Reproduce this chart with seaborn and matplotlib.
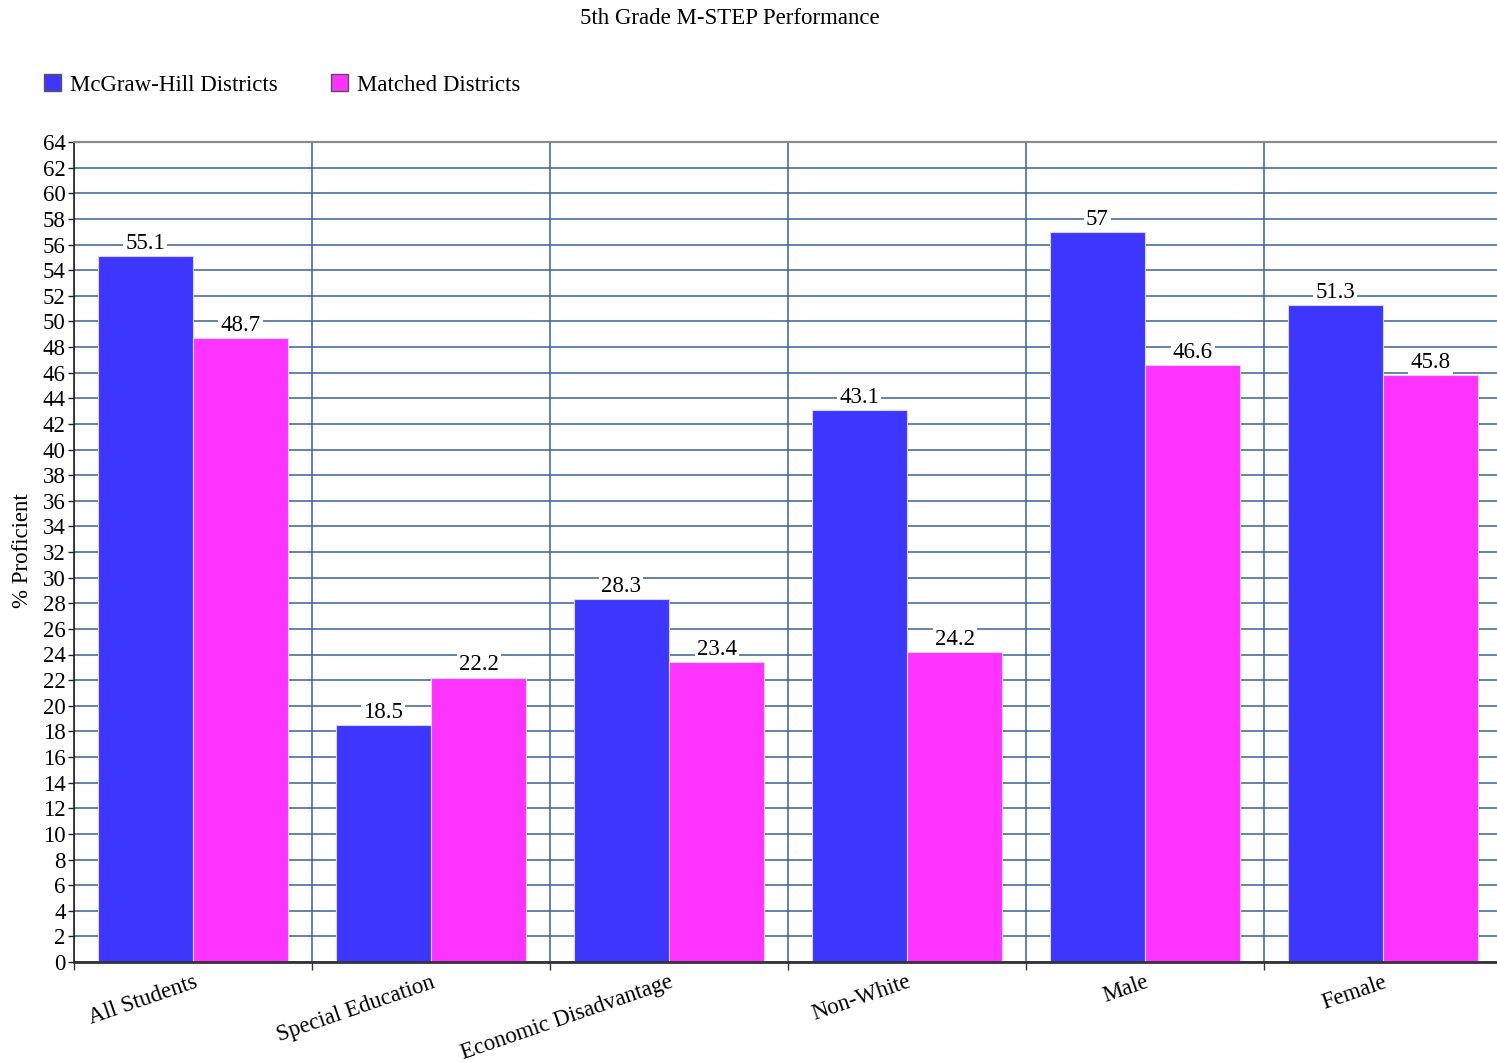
import matplotlib
matplotlib.use('Agg')
import matplotlib.pyplot as plt
import seaborn as sns
import pandas as pd
import numpy as np

# ---- data ----
categories = ["All Students", "Special Education", "Economic Disadvantage",
              "Non-White", "Male", "Female"]
series_names = ["McGraw-Hill Districts", "Matched Districts"]
mcgraw_hill = [55.1, 18.5, 28.3, 43.1, 57.0, 51.3]
matched = [48.7, 22.2, 23.4, 24.2, 46.6, 45.8]
y_ticks = list(range(0, 65, 2))
title = "5th Grade M-STEP Performance"
y_label = "% Proficient"

# ---- style ----
sns.set_style("white")
plt.rcParams['font.family'] = ['Liberation Serif', 'DejaVu Serif']
plt.rcParams['text.color'] = 'black'
plt.rcParams['xtick.color'] = 'black'
plt.rcParams['ytick.color'] = 'black'
plt.rcParams['xtick.labelcolor'] = 'black'
plt.rcParams['ytick.labelcolor'] = 'black'
FS = 16.5
BLUE = "#3c36ff"
PINK = "#ff33ff"
GRID = "#3a6290"

df = pd.DataFrame({
    "Group": categories * 2,
    "Series": [series_names[0]] * len(categories) + [series_names[1]] * len(categories),
    "Value": mcgraw_hill + matched,
})

W, H = 1497, 1062
fig = plt.figure(figsize=(W / 100, H / 100), dpi=100)
ax = fig.add_axes([74 / W, 1 - 962 / H, (1502 - 74) / W, (962 - 142) / H])

sns.barplot(data=df, x="Group", y="Value", hue="Series", order=categories,
            hue_order=series_names, palette=[BLUE, PINK], width=0.8,
            saturation=1, edgecolor="#d8d4f4", linewidth=0.8, ax=ax, zorder=3)

handles, labels = ax.get_legend_handles_labels()
if ax.get_legend() is not None:
    ax.get_legend().remove()

ax.set_ylim(0, 64)
ax.set_xlim(-0.5, len(categories) - 0.5)
ax.set_yticks(y_ticks)
ax.set_yticklabels([str(t) for t in y_ticks], fontsize=FS, color="black")
ax.set_xticks(np.arange(-0.5, len(categories) + 0.5, 1))
ax.set_xticklabels([])
ax.set_xticks(np.arange(len(categories)), minor=True)
ax.set_xticklabels(categories, minor=True, fontsize=FS, rotation=19, color="black",
                   ha="right", va="top", rotation_mode="anchor")
ax.tick_params(axis="x", which="minor", length=0, pad=7)
ax.tick_params(axis="x", which="major", length=6, color="#333333", width=1,
               direction="out", bottom=True)
ax.tick_params(axis="y", length=4, color="#222222", width=1, direction="out",
               left=True, pad=2)
ax.set_xlabel("")
ax.set_ylabel("")

ax.grid(True, which="major", axis="both", color=GRID, linewidth=1.1, zorder=0)
ax.set_axisbelow(True)
ax.spines["right"].set_visible(False)
ax.spines["top"].set_color("#8a8a8a")
ax.spines["top"].set_linewidth(1.6)
ax.spines["left"].set_color("#222222")
ax.spines["left"].set_linewidth(1.2)
ax.spines["bottom"].set_color("#333333")
ax.spines["bottom"].set_linewidth(2)
ax.spines["bottom"].set_zorder(5)

for cont in ax.containers:
    vals = [b.get_height() for b in cont]
    ax.bar_label(cont, labels=[f"{v:g}" for v in vals], padding=1.5, fontsize=FS,
                 color="black",
                 bbox=dict(facecolor="white", edgecolor="none", pad=1.5), zorder=6)

for h in handles:
    h.set_edgecolor("#555555")
    h.set_linewidth(1)
fig.legend(handles, labels, loc="center left", bbox_to_anchor=(44 / W, 1 - 85 / H),
           ncol=2, frameon=False, fontsize=FS, handlelength=0.75, handleheight=0.75,
           handletextpad=0.4, columnspacing=2.3, borderaxespad=0, borderpad=0)

fig.text(730 / W, 1 - 19 / H, title, ha="center", va="center", fontsize=FS)
fig.text(23 / W, 1 - 551 / H, y_label, ha="center", va="center", rotation=90,
         fontsize=FS)

fig.savefig("out.png", dpi=100)
